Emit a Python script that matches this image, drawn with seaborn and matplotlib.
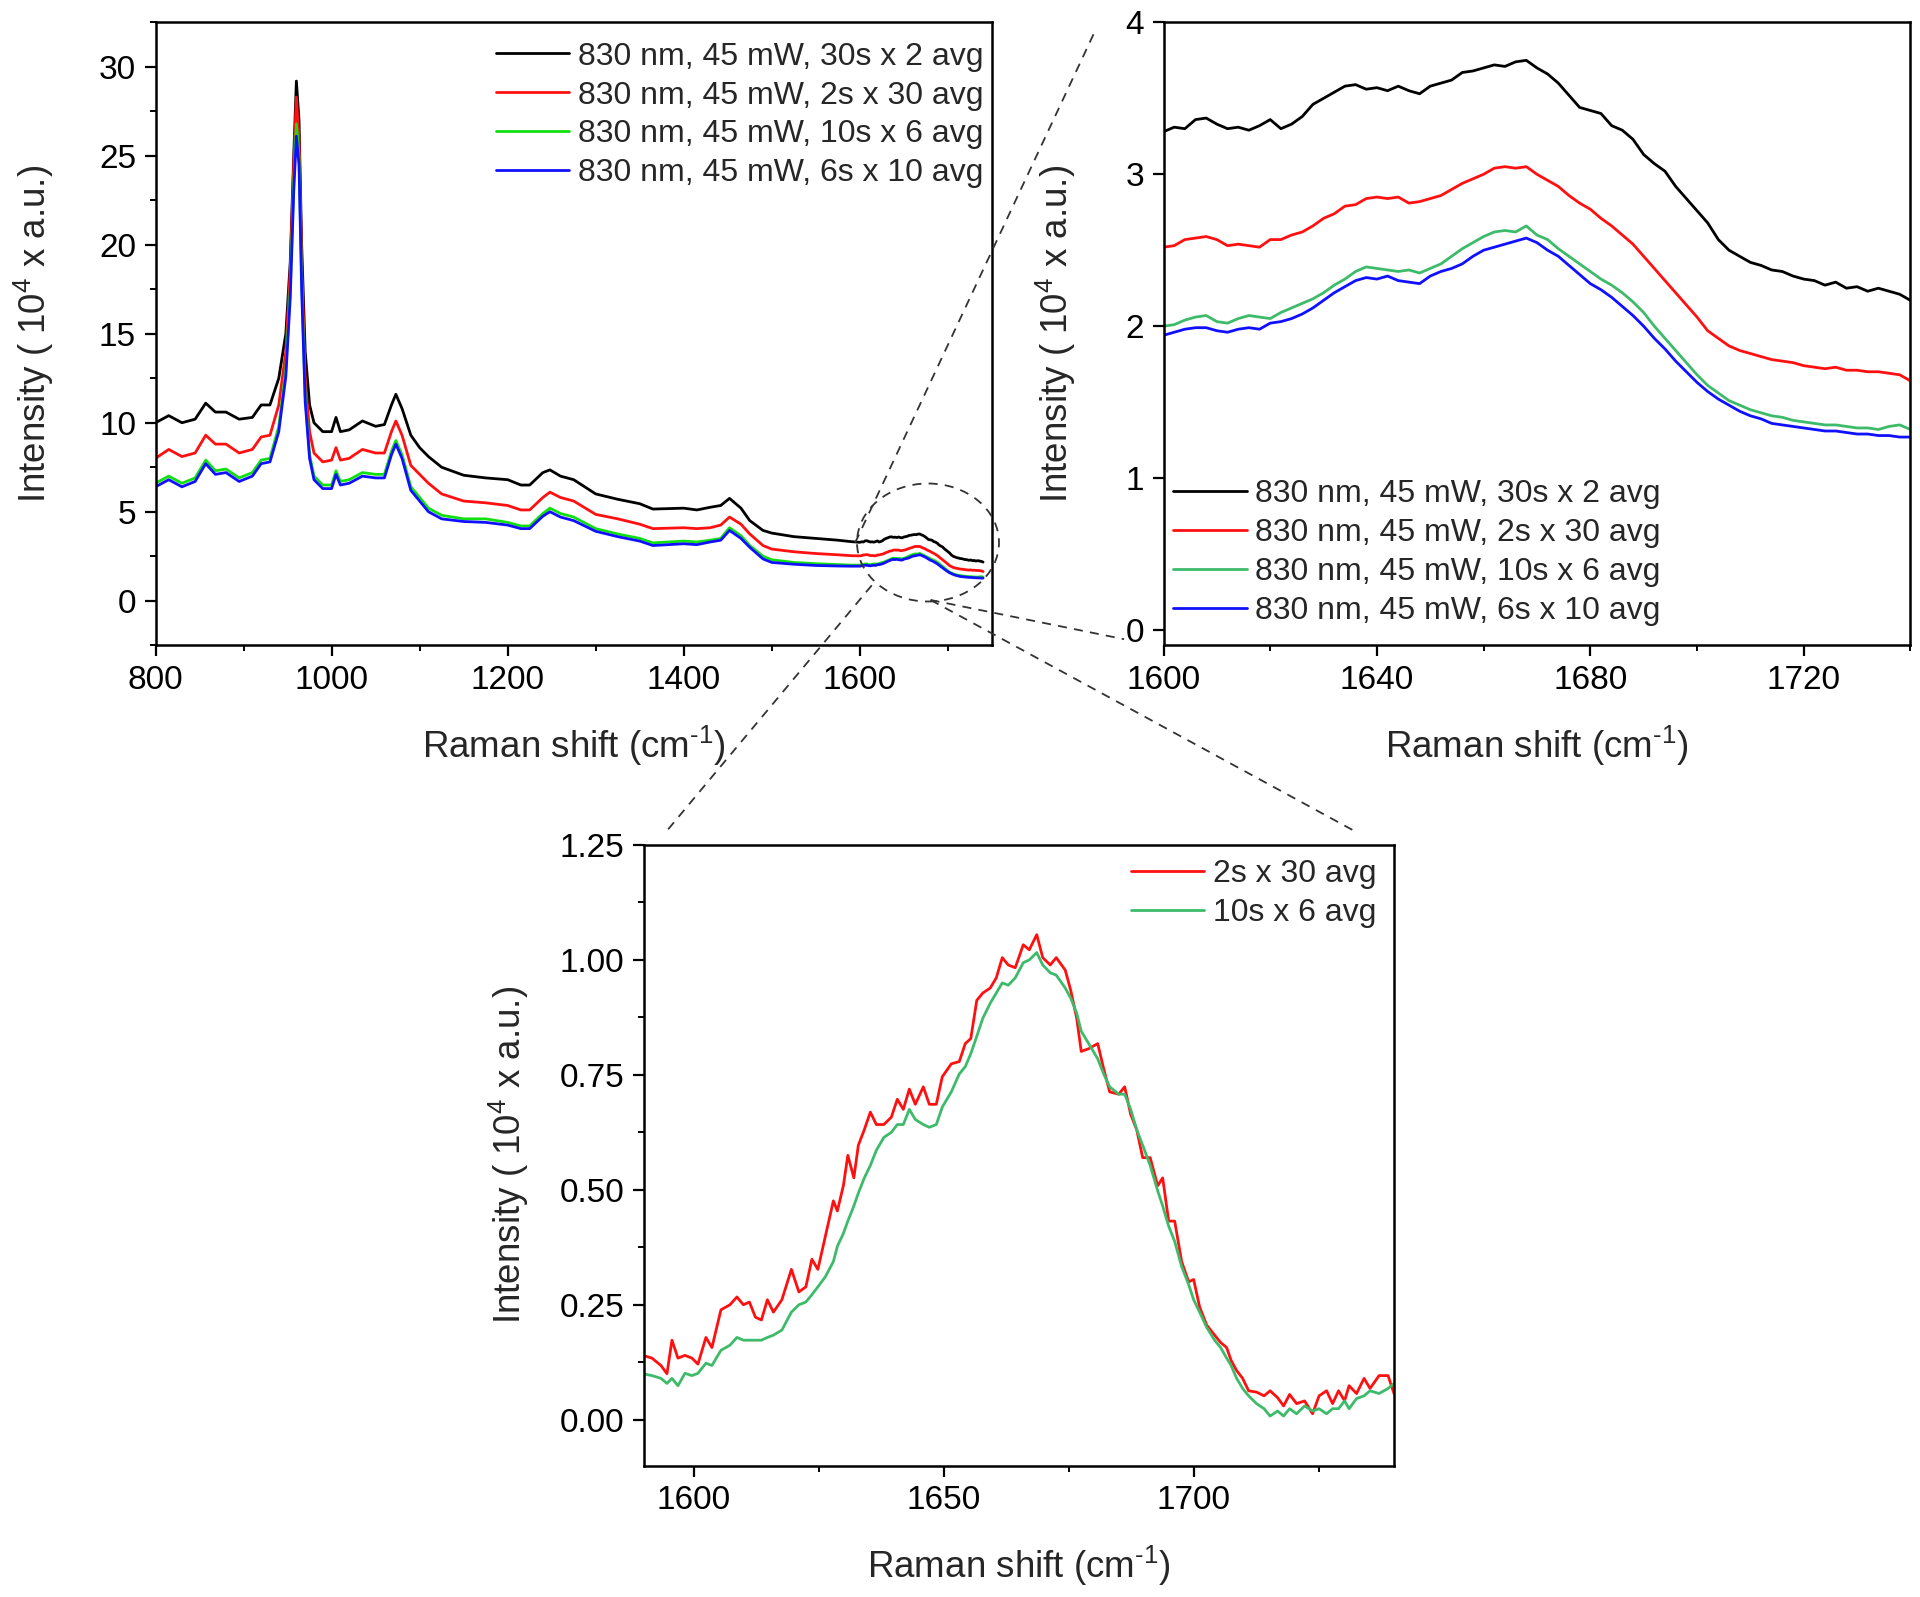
import numpy as np
import pandas as pd
import matplotlib
matplotlib.use("Agg")
import matplotlib.pyplot as plt
import seaborn as sns
from matplotlib.ticker import MultipleLocator, AutoMinorLocator, FormatStrFormatter
from matplotlib.lines import Line2D
from matplotlib.patches import Ellipse

# ---- overview spectrum (800 - 1590 cm-1), values in 10^4 a.u.
ov_shift = [800, 815, 830, 845, 857, 868, 880, 895, 910, 920,
            930, 940, 948, 953, 957, 960, 963, 966, 970, 975,
            980, 990, 1000, 1005, 1010, 1020, 1035, 1050, 1060, 1068,
            1073, 1080, 1090, 1100, 1110, 1125, 1150, 1175, 1200, 1215,
            1225, 1240, 1248, 1260, 1275, 1300, 1325, 1350, 1365, 1400,
            1415, 1430, 1442, 1452, 1465, 1475, 1490, 1500, 1525, 1550,
            1575, 1590]
ov_30x2 = [10.0, 10.4, 10.0, 10.2, 11.1, 10.6, 10.6, 10.2, 10.3, 11.0,
           11.0, 12.5, 15.0, 19.0, 25.0, 29.2, 27.0, 20.0, 14.0, 11.0,
           10.0, 9.5, 9.5, 10.3, 9.5, 9.6, 10.1, 9.8, 9.9, 11.0,
           11.6, 10.8, 9.3, 8.6, 8.1, 7.5, 7.05, 6.9, 6.8, 6.5,
           6.5, 7.2, 7.35, 7.0, 6.8, 6.0, 5.7, 5.45, 5.15, 5.2,
           5.1, 5.25, 5.35, 5.75, 5.2, 4.5, 3.95, 3.8, 3.6, 3.5,
           3.4, 3.32]
ov_2x30 = [8.0, 8.5, 8.1, 8.3, 9.3, 8.8, 8.8, 8.3, 8.5, 9.2,
           9.3, 11.0, 14.0, 18.5, 24.5, 28.3, 26.0, 19.0, 12.5, 9.5,
           8.3, 7.8, 7.9, 8.6, 7.9, 8.0, 8.5, 8.3, 8.3, 9.5,
           10.1, 9.3, 7.6, 7.1, 6.6, 6.0, 5.6, 5.5, 5.35, 5.1,
           5.1, 5.8, 6.1, 5.8, 5.6, 4.85, 4.6, 4.3, 4.05, 4.1,
           4.05, 4.1, 4.25, 4.7, 4.3, 3.75, 3.1, 2.9, 2.75, 2.65,
           2.58, 2.53]
ov_10x6 = [6.6, 7.0, 6.6, 6.9, 7.9, 7.3, 7.4, 6.9, 7.2, 7.9,
           8.0, 9.8, 13.0, 17.5, 23.5, 26.8, 25.0, 18.0, 11.5, 8.2,
           7.0, 6.5, 6.5, 7.3, 6.7, 6.8, 7.2, 7.1, 7.1, 8.4,
           9.0, 8.2, 6.4, 5.8, 5.2, 4.8, 4.6, 4.6, 4.4, 4.2,
           4.2, 4.9, 5.2, 4.9, 4.7, 4.05, 3.75, 3.5, 3.25, 3.35,
           3.3, 3.4, 3.5, 4.1, 3.65, 3.1, 2.5, 2.3, 2.15, 2.08,
           2.03, 2.0]
ov_6x10 = [6.4, 6.8, 6.4, 6.7, 7.7, 7.1, 7.2, 6.7, 7.0, 7.7,
           7.8, 9.5, 12.6, 17.0, 23.0, 26.1, 24.5, 17.5, 11.2, 8.0,
           6.8, 6.3, 6.3, 7.1, 6.5, 6.6, 7.0, 6.9, 6.9, 8.2,
           8.8, 8.0, 6.2, 5.6, 5.0, 4.6, 4.45, 4.4, 4.25, 4.05,
           4.05, 4.75, 5.0, 4.7, 4.5, 3.9, 3.6, 3.35, 3.1, 3.2,
           3.15, 3.3, 3.4, 3.95, 3.5, 3.0, 2.35, 2.15, 2.05, 1.98,
           1.95, 1.94]

# ---- zoomed amide I region (1600 - 1740 cm-1)
zm_shift = list(range(1600, 1741, 2))
zm_30x2 = [3.28, 3.31, 3.30, 3.36, 3.37, 3.33, 3.30, 3.31, 3.29, 3.32,
           3.36, 3.30, 3.33, 3.38, 3.46, 3.50, 3.54, 3.58, 3.59, 3.56,
           3.57, 3.55, 3.58, 3.55, 3.53, 3.58, 3.60, 3.62, 3.67, 3.68,
           3.70, 3.72, 3.71, 3.74, 3.75, 3.70, 3.66, 3.60, 3.52, 3.44,
           3.42, 3.40, 3.32, 3.29, 3.23, 3.13, 3.07, 3.02, 2.92, 2.84,
           2.76, 2.68, 2.57, 2.50, 2.46, 2.42, 2.40, 2.37, 2.36, 2.33,
           2.31, 2.30, 2.27, 2.29, 2.25, 2.26, 2.23, 2.25, 2.23, 2.21,
           2.17]
zm_2x30 = [2.52, 2.53, 2.57, 2.58, 2.59, 2.57, 2.53, 2.54, 2.53, 2.52,
           2.57, 2.57, 2.60, 2.62, 2.66, 2.71, 2.74, 2.79, 2.80, 2.84,
           2.85, 2.84, 2.85, 2.81, 2.82, 2.84, 2.86, 2.90, 2.94, 2.97,
           3.00, 3.04, 3.05, 3.04, 3.05, 3.00, 2.96, 2.92, 2.86, 2.81,
           2.77, 2.71, 2.66, 2.60, 2.54, 2.46, 2.38, 2.30, 2.22, 2.14,
           2.06, 1.97, 1.92, 1.87, 1.84, 1.82, 1.80, 1.78, 1.77, 1.76,
           1.74, 1.73, 1.72, 1.73, 1.71, 1.71, 1.70, 1.70, 1.69, 1.68,
           1.64]
zm_10x6 = [2.00, 2.01, 2.04, 2.06, 2.07, 2.03, 2.02, 2.05, 2.07, 2.06,
           2.05, 2.09, 2.12, 2.15, 2.18, 2.22, 2.27, 2.31, 2.36, 2.39,
           2.38, 2.37, 2.36, 2.37, 2.35, 2.38, 2.41, 2.46, 2.51, 2.55,
           2.59, 2.62, 2.63, 2.62, 2.66, 2.60, 2.57, 2.51, 2.46, 2.41,
           2.36, 2.31, 2.27, 2.22, 2.16, 2.09, 2.00, 1.92, 1.84, 1.76,
           1.68, 1.61, 1.56, 1.51, 1.48, 1.45, 1.43, 1.41, 1.40, 1.38,
           1.37, 1.36, 1.35, 1.35, 1.34, 1.33, 1.33, 1.32, 1.34, 1.35,
           1.32]
zm_6x10 = [1.94, 1.96, 1.98, 1.99, 1.99, 1.97, 1.96, 1.98, 1.99, 1.98,
           2.02, 2.03, 2.05, 2.08, 2.12, 2.17, 2.22, 2.26, 2.30, 2.32,
           2.31, 2.33, 2.30, 2.29, 2.28, 2.33, 2.36, 2.38, 2.41, 2.46,
           2.50, 2.52, 2.54, 2.56, 2.58, 2.55, 2.50, 2.46, 2.40, 2.34,
           2.28, 2.24, 2.19, 2.13, 2.07, 2.00, 1.92, 1.85, 1.77, 1.70,
           1.63, 1.57, 1.52, 1.48, 1.44, 1.41, 1.39, 1.36, 1.35, 1.34,
           1.33, 1.32, 1.31, 1.31, 1.30, 1.29, 1.29, 1.28, 1.28, 1.27,
           1.27]

# ---- baseline-subtracted amide I band
bs_shift = [1589.8, 1591.6, 1593.4, 1594.6, 1595.6, 1596.8, 1598.2, 1599.6, 1600.8, 1602.4,
            1603.6, 1605.4, 1607.2, 1608.6, 1609.9, 1611.1, 1612.3, 1613.5, 1614.7, 1615.9,
            1617.6, 1619.5, 1621.0, 1622.4, 1623.6, 1624.8, 1626.3, 1627.9, 1628.7, 1629.9,
            1630.8, 1632.0, 1632.9, 1634.1, 1635.3, 1636.5, 1638.0, 1639.5, 1640.7, 1641.9,
            1643.1, 1644.3, 1645.9, 1647.1, 1648.5, 1649.7, 1651.5, 1653.1, 1654.3, 1655.4,
            1656.6, 1657.8, 1659.3, 1660.5, 1661.7, 1662.9, 1664.3, 1665.9, 1667.1, 1668.6,
            1669.8, 1671.3, 1672.5, 1674.3, 1675.4, 1676.6, 1677.5, 1679.0, 1680.8, 1682.0,
            1683.2, 1685.0, 1686.2, 1687.4, 1688.6, 1689.8, 1691.3, 1692.8, 1693.8, 1695.0,
            1696.2, 1697.6, 1699.0, 1700.0, 1701.2, 1702.6, 1704.2, 1705.4, 1706.6, 1707.5,
            1708.6, 1709.8, 1711.0, 1712.6, 1714.1, 1715.3, 1716.8, 1718.0, 1719.2, 1720.6,
            1722.2, 1723.8, 1725.1, 1726.6, 1727.8, 1729.0, 1730.2, 1731.1, 1732.6, 1734.1,
            1735.3, 1737.1, 1738.9, 1740.1]
bs_2x30 = [0.140, 0.134, 0.118, 0.100, 0.173, 0.134, 0.140, 0.134, 0.121, 0.179,
           0.157, 0.239, 0.250, 0.267, 0.250, 0.256, 0.223, 0.217, 0.261, 0.234,
           0.261, 0.327, 0.278, 0.289, 0.349, 0.327, 0.399, 0.476, 0.454, 0.509,
           0.575, 0.526, 0.597, 0.631, 0.669, 0.642, 0.642, 0.658, 0.697, 0.675,
           0.719, 0.686, 0.724, 0.686, 0.686, 0.746, 0.774, 0.779, 0.818, 0.829,
           0.912, 0.928, 0.939, 0.961, 1.005, 0.989, 0.983, 1.033, 1.022, 1.055,
           1.005, 0.989, 1.005, 0.978, 0.934, 0.873, 0.801, 0.807, 0.818, 0.763,
           0.713, 0.708, 0.724, 0.664, 0.631, 0.570, 0.570, 0.509, 0.526, 0.432,
           0.432, 0.344, 0.300, 0.305, 0.245, 0.206, 0.184, 0.168, 0.157, 0.129,
           0.107, 0.090, 0.063, 0.060, 0.052, 0.063, 0.048, 0.030, 0.055, 0.035,
           0.041, 0.013, 0.052, 0.063, 0.035, 0.063, 0.041, 0.074, 0.057, 0.090,
           0.068, 0.096, 0.096, 0.057]
bs_10x6 = [0.100, 0.096, 0.090, 0.079, 0.090, 0.074, 0.101, 0.096, 0.101, 0.123,
           0.118, 0.151, 0.162, 0.179, 0.173, 0.173, 0.173, 0.173, 0.179, 0.184,
           0.195, 0.234, 0.250, 0.256, 0.272, 0.289, 0.311, 0.344, 0.377, 0.405,
           0.432, 0.465, 0.493, 0.526, 0.553, 0.586, 0.614, 0.625, 0.642, 0.642,
           0.675, 0.653, 0.642, 0.636, 0.642, 0.680, 0.713, 0.752, 0.768, 0.796,
           0.834, 0.873, 0.906, 0.928, 0.950, 0.945, 0.961, 0.994, 1.000, 1.016,
           0.989, 0.972, 0.967, 0.939, 0.917, 0.884, 0.845, 0.818, 0.785, 0.752,
           0.724, 0.708, 0.708, 0.675, 0.631, 0.597, 0.553, 0.498, 0.465, 0.421,
           0.388, 0.333, 0.294, 0.261, 0.234, 0.201, 0.173, 0.157, 0.134, 0.118,
           0.090, 0.068, 0.052, 0.035, 0.024, 0.008, 0.019, 0.008, 0.024, 0.013,
           0.030, 0.019, 0.024, 0.013, 0.024, 0.024, 0.041, 0.024, 0.046, 0.052,
           0.063, 0.057, 0.068, 0.079]

labels = ["830 nm, 45 mW, 30s x 2 avg", "830 nm, 45 mW, 2s x 30 avg",
          "830 nm, 45 mW, 10s x 6 avg", "830 nm, 45 mW, 6s x 10 avg"]

sns.set_style("ticks")
plt.rcParams["font.family"] = ["Liberation Sans", "DejaVu Sans"]
plt.rcParams["mathtext.fontset"] = "custom"
plt.rcParams["mathtext.rm"] = "Liberation Sans"
plt.rcParams["mathtext.it"] = "Liberation Sans:italic"
plt.rcParams["axes.linewidth"] = 1.8
plt.rcParams["axes.edgecolor"] = "black"
plt.rcParams["xtick.color"] = "black"
plt.rcParams["ytick.color"] = "black"

TICK = 24
LAB = 26.5
LEG = 23
XLAB = r"Raman shift (cm$^{\text{-}1}$)"
YLAB = r"Intensity ( 10$^{4}$ x a.u.)"

fig = plt.figure(figsize=(19.2, 15.97), dpi=100)
ax1 = fig.add_axes([0.081, 0.596, 0.4356, 0.390])
ax2 = fig.add_axes([0.606, 0.596, 0.389, 0.390])
ax3 = fig.add_axes([0.3354, 0.0822, 0.3904, 0.3887])


def style(ax, xmaj, ymaj, ypad, yminor=True):
    ax.xaxis.set_major_locator(MultipleLocator(xmaj))
    ax.xaxis.set_minor_locator(AutoMinorLocator(2))
    ax.yaxis.set_major_locator(MultipleLocator(ymaj))
    if yminor:
        ax.yaxis.set_minor_locator(AutoMinorLocator(2))
    ax.tick_params(which="major", direction="out", length=8, width=1.6,
                   labelsize=TICK, top=False, right=False, pad=6)
    ax.tick_params(which="minor", direction="out", length=4.5, width=1.4,
                   top=False, right=False)
    ax.set_xlabel(XLAB, fontsize=LAB, labelpad=20)
    ax.set_ylabel(YLAB, fontsize=LAB, labelpad=ypad)
    for s in ax.spines.values():
        s.set_visible(True)
        s.set_linewidth(1.8)


leg_kw = dict(frameon=False, fontsize=LEG, handlelength=2.3, handletextpad=0.27,
              labelspacing=0.28, borderpad=0.2)

# overview
full_cols = ["black", "#ff1010", "#10e010", "#1010ff"]
ov_all = [ov_30x2, ov_2x30, ov_10x6, ov_6x10]
zm_all = [zm_30x2, zm_2x30, zm_10x6, zm_6x10]
for vals_ov, vals_zm, c, lab in zip(ov_all, zm_all, full_cols, labels):
    sns.lineplot(x=ov_shift + zm_shift, y=vals_ov + vals_zm, color=c, lw=2.0,
                 label=lab, ax=ax1)
ax1.set_xlim(800, 1750)
ax1.set_ylim(-2.5, 32.5)
style(ax1, 200, 5, 31)
ax1.legend(loc="upper right", bbox_to_anchor=(1.0, 0.983), borderaxespad=0.07, **leg_kw)

# zoom on 1600-1740
zm_cols = ["black", "#ff1010", "#3dbb6a", "#1010ff"]
for vals, c, lab in zip(zm_all, zm_cols, labels):
    sns.lineplot(x=zm_shift, y=vals, color=c, lw=2.0, label=lab, ax=ax2)
ax2.set_xlim(1600, 1740)
ax2.set_ylim(-0.1, 4)
style(ax2, 40, 1, 34, yminor=False)
ax2.legend(loc="lower left", bbox_to_anchor=(0.0, 0.015), borderaxespad=0.1, **leg_kw)

# baseline-subtracted
sns.lineplot(x=bs_shift, y=bs_2x30, color="#ff1010", lw=2.0, label="2s x 30 avg", ax=ax3)
sns.lineplot(x=bs_shift, y=bs_10x6, color="#3dbb6a", lw=2.0, label="10s x 6 avg", ax=ax3)
ax3.set_xlim(1590, 1740)
ax3.set_ylim(-0.1, 1.25)
style(ax3, 50, 0.25, 21)
ax3.yaxis.set_major_formatter(FormatStrFormatter("%.2f"))
ax3.legend(loc="upper right", bbox_to_anchor=(0.993, 0.996), borderaxespad=0.17, **leg_kw)

# dashed zoom indicators (figure pixel coords -> fraction)
W, H = 1920.0, 1597.0


def fx(x, y):
    return x / W, 1 - y / H


fig.patches.append(Ellipse(fx(928, 542.5), 142 / W, 118 / H, fill=False,
                           ls=(0, (5, 4)), lw=1.3, ec="#333333",
                           transform=fig.transFigure))
for (xa, ya), (xb, yb) in [((1093.5, 34.3), (854.7, 543.7)),
                           ((871.8, 585.3), (667.4, 830.2)),
                           ((930.6, 600.0), (1124.1, 639.2)),
                           ((930.6, 600.0), (1353.0, 830.2))]:
    p, q = fx(xa, ya), fx(xb, yb)
    fig.lines.append(Line2D([p[0], q[0]], [p[1], q[1]], ls=(0, (5, 4)), lw=1.3,
                            color="#333333", transform=fig.transFigure))

fig.savefig("out.png", dpi=100)
